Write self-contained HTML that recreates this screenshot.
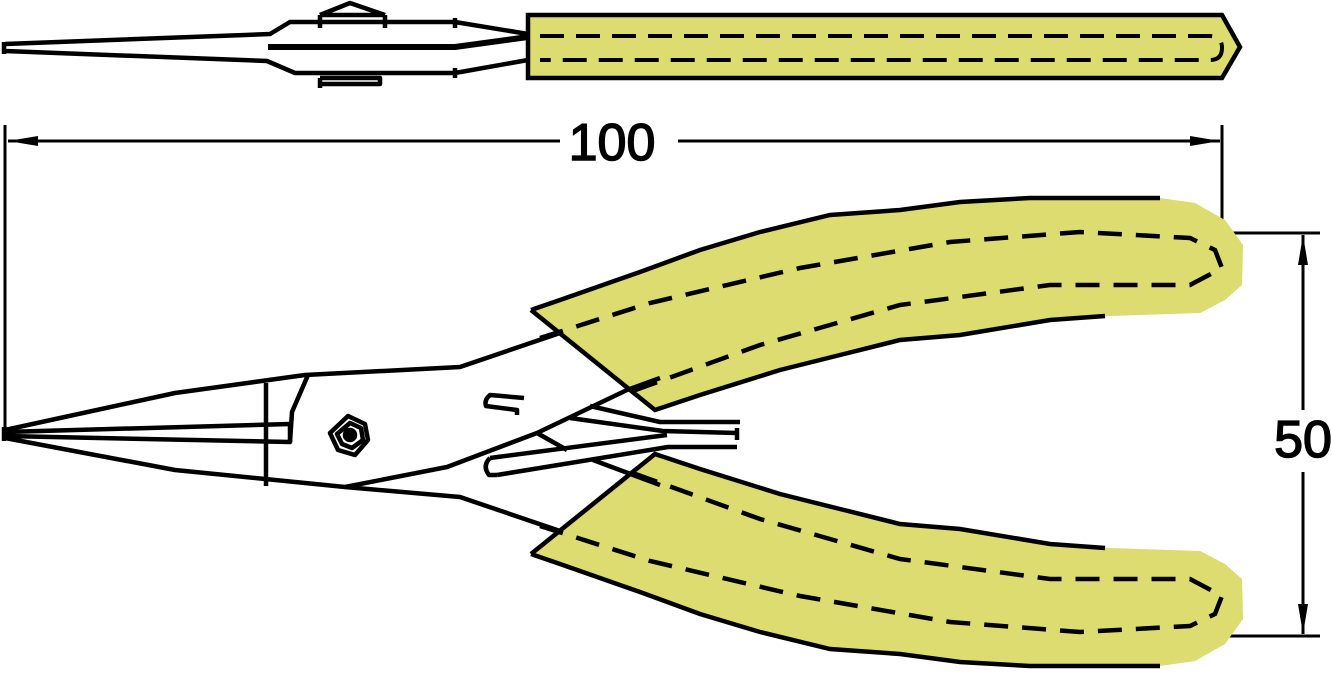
<!DOCTYPE html>
<html><head><meta charset="utf-8"><style>html,body{margin:0;padding:0;background:#fff}svg{display:block}</style></head>
<body>
<svg width="1332" height="674" viewBox="0 0 1332 674" xmlns="http://www.w3.org/2000/svg">
<defs>
<g id="handle">
<path d="M531,310 L560,300 L640,272 L700,250 L760,232 L830,215 L900,210 L960,202 L1030,198 L1160,198 L1195,203 L1225,220 L1243,245 L1242,285 L1225,300 L1200,313 L1110,316 L1050,320 L960,335 L900,340 L840,355 L780,370 L700,395 L655,410 Z" fill="#dcdc70" stroke="none"/>
<path d="M531,310 L560,300 L640,272 L700,250 L760,232 L830,215 L900,210 L960,202 L1030,198 L1160,198" fill="none" stroke="#000" stroke-width="4.5"/>
<path d="M1105,316 L1050,320 L960,335 L900,340 L840,355 L780,370 L700,395 L655,410 L531,310" fill="none" stroke="#000" stroke-width="4.5"/>
<path d="M540,338 L650,303 L800,268 L950,242 L1080,232 L1190,238 L1215,250 L1222,268 L1190,285 L1050,285 L900,305 L760,345 L630,392" fill="none" stroke="#000" stroke-width="4.5" stroke-dasharray="24,14"/>
</g>
<marker id="ar" viewBox="0 0 30 12" refX="30" refY="6" markerWidth="30" markerHeight="12" markerUnits="userSpaceOnUse" orient="auto"><path d="M0,1 L30,6 L0,11 Z" fill="#000"/></marker>
</defs>
<g fill="none" stroke="#000" stroke-width="4.5" stroke-linejoin="round">
<path d="M4,42 L4,54"/>
<path d="M5,44 L270,34 L290,22 L455,22 L528,34"/>
<path d="M5,51 L267,61 L295,73 L455,73 L528,60"/>
<path d="M268,47 L455,47 L528,37" stroke-width="6"/>
<path d="M320,15 L350,3 L385,15 M320,15 L385,15 M320,15 L320,28 M385,15 L385,28"/>
<path d="M320,78 L320,88 M320,78 L380,78 L380,84 L320,84"/>
<path d="M455,18 L455,28 M455,68 L455,78"/>
</g>
<path d="M528,15 L1222,15 L1240,47 L1222,78 L528,78 Z" fill="#dcdc70" stroke="#000" stroke-width="4.5"/>
<path d="M540,36 L1210,36 Q1222,36 1222,48 Q1222,60 1210,60 L540,60" fill="none" stroke="#000" stroke-width="4" stroke-dasharray="24,12"/>

<g stroke="#000" stroke-width="3" fill="none">
<path d="M5,125 L5,428"/>
<path d="M1222,125 L1222,236"/>
<path d="M560,141 L8,141" marker-end="url(#ar)"/>
<path d="M678,141 L1220,141" marker-end="url(#ar)"/>
<path d="M1100,233 L1320,233"/>
<path d="M1070,636 L1320,636"/>
<path d="M1303,410 L1303,235" marker-end="url(#ar)"/>
<path d="M1303,472 L1303,634" marker-end="url(#ar)"/>
</g>
<text x="612" y="160" font-family="Liberation Sans, sans-serif" font-size="52" text-anchor="middle" fill="#000" stroke="#000" stroke-width="1.5">100</text>
<text x="1303" y="457" font-family="Liberation Sans, sans-serif" font-size="52" text-anchor="middle" fill="#000" stroke="#000" stroke-width="1.5">50</text>

<use href="#handle"/>
<use href="#handle" transform="translate(0,864) scale(1,-1)"/>

<g fill="none" stroke="#000" stroke-width="4.5" stroke-linejoin="round">
<path d="M4,427 L4,441"/>
<path d="M5,430 L175,393 L305,375 L460,367 L560,333"/>
<path d="M5,438 L175,470 L345,487 L460,497 L560,531"/>
<path d="M5,432 L290,424 L290,442 L5,436"/>
<path d="M290,442 L292,412 L308,375"/>
<path d="M266,383 L266,486"/>
<path d="M345,487 L447,467 L537,433 L627,390 L660,378"/>
<path d="M537,433 L567,450"/>
<path d="M593,460 L660,485"/>
<path d="M590,406 L660,422 L740,422"/>
<path d="M570,418 L663,431 L737,433 L737,428 M737,433 L737,440"/>
<path d="M490,458 L667,435"/>
<path d="M497,475 L668,447 L737,447"/>
<path d="M490,458 Q482,466 489,475 L497,475"/>
<path d="M524,398 L490,395 Q484,400 486,406 L517,410 L517,415"/>
<polygon points="348,416 365,424 368,440 355,455 338,450 330,433"/>
<polygon points="350,423 361,428 363,440 352,448 342,444 337,434"/>
<circle cx="350" cy="435" r="5" fill="#000"/>
</g>
</svg>
</body></html>
